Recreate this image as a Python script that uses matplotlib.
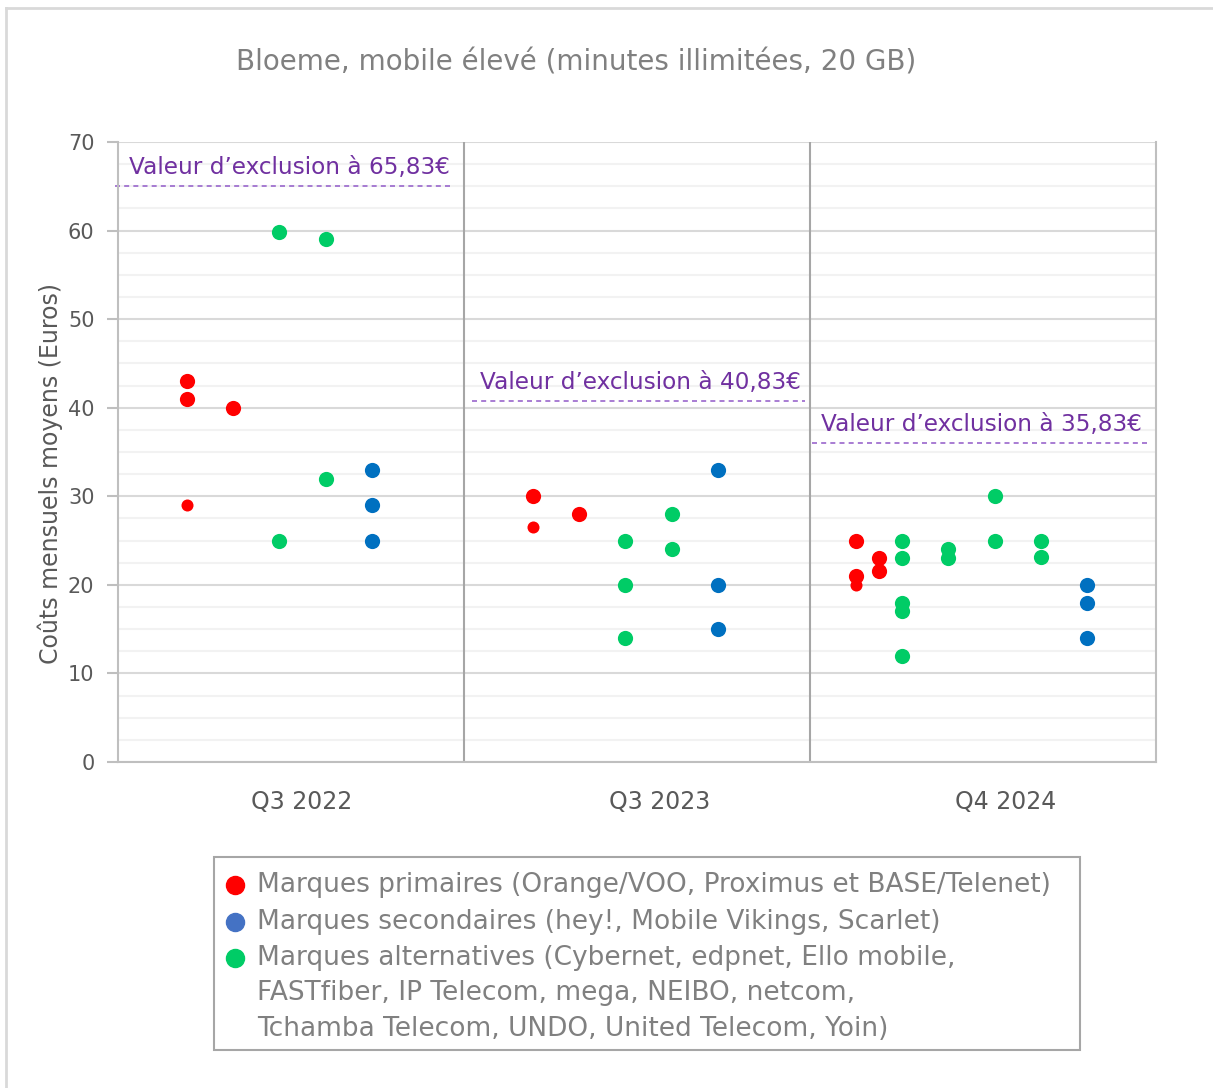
import matplotlib.pyplot as plt
from matplotlib.lines import Line2D
from matplotlib.patches import Rectangle

# --- data ---
periods = ['Q3 2022', 'Q3 2023', 'Q4 2024']
period_x = [3.97, 11.73, 19.23]
panel_edges = [7.5, 15.0]
exclusion = [65.83, 40.83, 35.83]
exclusion_y = [65.0, 40.8, 36.0]
exclusion_span = [(-0.07, 7.2), (7.67, 14.9), (15.04, 22.3)]
exclusion_text_x = [3.71, 11.32, 18.71]

prim_x = [1.5, 1.5, 2.5, 9, 10, 16, 16, 16.5, 16.5]
prim_y = [43, 41, 40, 30, 28, 25, 21, 23, 21.6]
prim_small_x = [1.5, 9, 16]
prim_small_y = [29, 26.5, 20]

sec_x = [5.5, 5.5, 5.5, 13, 13, 13, 21, 21, 21]
sec_y = [33, 29, 25, 33, 20, 15, 20, 18, 14]

alt_x = [3.5, 3.5, 4.5, 4.5,
         11, 11, 11, 12, 12,
         17, 17, 17, 17, 17, 18, 18, 19, 19, 20, 20]
alt_y = [59.8, 25, 59, 32,
         25, 20, 14, 28, 24,
         25, 23, 18, 17, 12, 24, 23, 30, 25, 25, 23.2]

legend_labels = [
    ['Marques primaires (Orange/VOO, Proximus et BASE/Telenet)'],
    ['Marques secondaires (hey!, Mobile Vikings, Scarlet)'],
    ['Marques alternatives (Cybernet, edpnet, Ello mobile,',
     'FASTfiber, IP Telecom, mega, NEIBO, netcom,',
     'Tchamba Telecom, UNDO, United Telecom, Yoin)'],
]

RED = '#FF0000'
BLUE = '#0070C0'
GREEN = '#00CC66'
PURPLE = '#7030A0'
GREY = '#595959'

plt.rcParams['font.family'] = ['DejaVu Sans']

fig = plt.figure(figsize=(12.13, 10.88), dpi=100)
ax = fig.add_axes([118 / 1213, 1 - 762 / 1088, (1156 - 118) / 1213, (762 - 142) / 1088])

# outer frame (only top/left visible in the source)
fig.add_artist(Line2D([6 / 1213, 6 / 1213], [0, 1 - 8 / 1088], color='#D9D9D9', lw=2,
                      transform=fig.transFigure))
fig.add_artist(Line2D([6 / 1213, 1], [1 - 8 / 1088, 1 - 8 / 1088], color='#D9D9D9', lw=2,
                      transform=fig.transFigure))

ax.set_xlim(0, 22.5)
ax.set_ylim(0, 70)
ax.set_yticks(range(0, 71, 10))
ax.set_yticks([v * 2.5 for v in range(29)], minor=True)
ax.set_xticks([])
ax.grid(axis='y', which='major', color='#D9D9D9', lw=1.5, zorder=0)
ax.grid(axis='y', which='minor', color='#F2F2F2', lw=1.5, zorder=0)
ax.set_axisbelow(True)
ax.tick_params(axis='y', which='major', length=8, width=1.5, color='#BFBFBF',
               labelsize=15, labelcolor=GREY, pad=9)
ax.tick_params(axis='y', which='minor', length=0)
for s in ['left', 'bottom', 'right']:
    ax.spines[s].set_color('#BFBFBF')
    ax.spines[s].set_linewidth(1.5)
ax.spines['top'].set_visible(False)

for e in panel_edges:
    ax.axvline(e, color='#A6A6A6', lw=1.5, zorder=1)

ax.set_ylabel('Coûts mensuels moyens (Euros)', fontsize=17, color=GREY)
ax.yaxis.set_label_coords(-0.053, 0.465)

# points
ax.scatter(prim_x, prim_y, s=120, color=RED, zorder=3, linewidths=0)
ax.scatter(prim_small_x, prim_small_y, s=75, color=RED, zorder=3, linewidths=0)
ax.scatter(sec_x, sec_y, s=120, color=BLUE, zorder=3, linewidths=0)
ax.scatter(alt_x, alt_y, s=120, color=GREEN, zorder=3, linewidths=0)

# exclusion thresholds
for val, yv, tx, (x0, x1) in zip(exclusion, exclusion_y, exclusion_text_x, exclusion_span):
    ax.plot([x0, x1], [yv, yv], ls=(0, (3, 2.5)), color='#9966CC', lw=1.2, zorder=2,
            clip_on=False)
    lab = 'Valeur d’exclusion à ' + f'{val:.2f}'.replace('.', ',') + '€'
    ax.text(tx, yv + 0.8, lab, ha='center', va='bottom', fontsize=16.7, color=PURPLE)

for x, p in zip(period_x, periods):
    ax.text(x, -4.5, p, ha='center', va='center', fontsize=17, color=GREY)

fig.text(576 / 1213, 1 - 62 / 1088, 'Bloeme, mobile élevé (minutes illimitées, 20 GB)',
         ha='center', va='center', fontsize=20, color='#808080')

# legend box
fig.add_artist(Rectangle((214 / 1213, 1 - 1050 / 1088), (1080 - 214) / 1213, (1050 - 857) / 1088,
                         transform=fig.transFigure, fill=False, edgecolor='#A6A6A6', lw=1.5))
leg_colors = [RED, '#4472C4', GREEN]
leg_y = [885, 922, 958]
line_step = 35.5
for c, yy, lines in zip(leg_colors, leg_y, legend_labels):
    fig.add_artist(Line2D([235 / 1213], [1 - yy / 1088], marker='o', ms=13, color=c, mec=c,
                          transform=fig.transFigure))
    for i, txt in enumerate(lines):
        fig.text(257 / 1213, 1 - (yy + i * line_step) / 1088, txt, ha='left', va='center',
                 fontsize=19, color='#808080')

fig.savefig('out.png', dpi=100)
